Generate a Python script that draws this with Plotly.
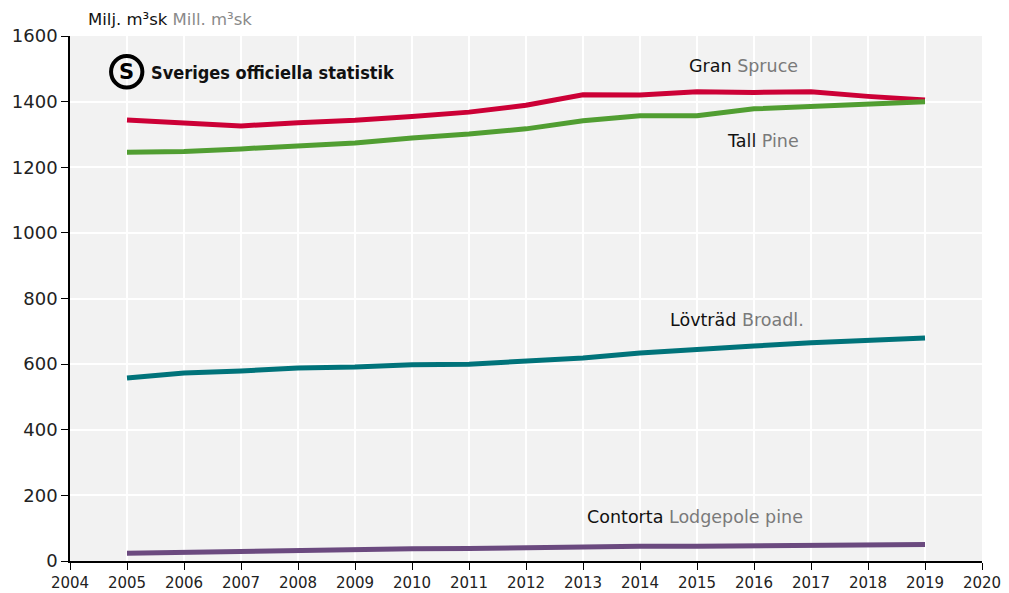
import plotly.graph_objects as go

# Virkesförråd per trädslag, milj. m³sk
years = list(range(2005, 2020))

gran = [1344, 1336, 1326, 1336, 1343, 1355, 1368, 1389, 1421, 1420, 1430, 1428, 1430, 1416, 1405]
tall = [1246, 1248, 1256, 1264, 1274, 1289, 1301, 1317, 1342, 1357, 1357, 1378, 1385, 1392, 1400]
lovtrad = [558, 573, 579, 588, 591, 598, 600, 610, 619, 634, 643, 655, 665, 674, 680]
contorta = [24, 27, 29, 31, 34, 37, 38, 41, 44, 45, 45, 46, 47, 46, 50]

names_sv = ["Gran", "Tall", "Lövträd", "Contorta"]
names_en = ["Spruce", "Pine", "Broadl.", "Lodgepole pine"]
colors = ["#cc0036", "#519e32", "#00737a", "#6b4a7f"]
# label positions (x year, y value)
label_x = [2015.81, 2016.16, 2015.70, 2014.96]
label_y = [1509, 1280, 735, 134]

FONT = "DejaVu Sans, sans-serif"

fig = go.Figure()
for i, vals in enumerate([gran, tall, lovtrad, contorta]):
    fig.add_trace(go.Scatter(x=years, y=vals, mode="lines", name=names_sv[i],
                             line=dict(color=colors[i], width=5), showlegend=False))
    fig.add_annotation(x=label_x[i], y=label_y[i], xref="x", yref="y", showarrow=False,
                       text=f"{names_sv[i]} <span style='color:#7a7a7a'>{names_en[i]}</span>",
                       font=dict(family=FONT, size=17.5, color="#111111"))

# enhet
fig.add_annotation(x=0, y=1, xref="paper", yref="paper", xshift=16, yshift=17,
                   xanchor="left", yanchor="middle", showarrow=False,
                   text="Milj. m³sk <span style='color:#8a8a8a'>Mill. m³sk</span>",
                   font=dict(family=FONT, size=16.5, color="#111111"))

# SOS-logga
fig.add_shape(type="circle", xref="x", yref="y",
              x0=2004.72, x1=2005.27, y0=1443, y1=1539,
              line=dict(color="#000000", width=4), fillcolor="rgba(0,0,0,0)")
fig.add_annotation(x=2004.995, y=1490, xref="x", yref="y", showarrow=False,
                   text="<b>S</b>", font=dict(family=FONT, size=21, color="#000000"))
fig.add_annotation(x=2005.386, y=1488, xref="x", yref="y", showarrow=False,
                   xanchor="left",
                   text="<b>Sveriges officiella statistik</b>",
                   font=dict(family="DejaVu Sans Condensed, DejaVu Sans", size=18, color="#111111"))

# sidan har 8px body-marginal, därav förskjutna marginaler
fig.update_layout(
    width=1009, height=593,
    margin=dict(l=62, r=35, t=28, b=40),
    paper_bgcolor="white", plot_bgcolor="#f2f2f2",
    font=dict(family=FONT, size=17, color="#222222"),
)
fig.update_xaxes(range=[2004, 2020], dtick=1, tick0=2004, showgrid=True,
                 gridcolor="white", gridwidth=2, showline=True, linecolor="black",
                 linewidth=1.5, ticks="outside", ticklen=7, tickcolor="black",
                 zeroline=False, tickfont=dict(size=15), automargin=False)
fig.update_yaxes(range=[0, 1600], dtick=200, showgrid=True, gridcolor="white",
                 gridwidth=2, showline=True, linecolor="black", linewidth=1.5,
                 ticks="outside", ticklen=7, tickcolor="black", zeroline=False,
                 tickfont=dict(size=18), automargin=False)

fig.write_html("out.html")
